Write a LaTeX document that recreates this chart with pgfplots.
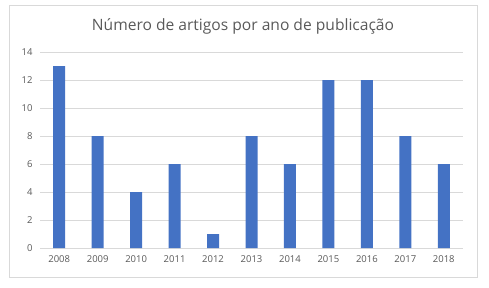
\documentclass[border=0pt]{standalone}
\usepackage{pgfplots}
\pgfplotsset{compat=1.18}
\usepackage{fontspec}
\setmainfont{Open Sans}
\definecolor{barblue}{HTML}{4472C4}
\definecolor{gridc}{HTML}{D9D9D9}
\definecolor{txt}{HTML}{595959}
\begin{document}
\begin{tikzpicture}[x=1pt,y=1pt]
\path (0,0) rectangle (489,287);
\draw[gridc, line width=0.8pt] (9,10) rectangle (477,282);
\node[txt, font=\fontsize{15.6}{17}\selectfont] at (243,261) {Número de artigos por ano de publicação};
\begin{axis}[
  at={(40pt,39pt)}, anchor=south west,
  scale only axis, width=423pt, height=196pt,
  xmin=-0.5, xmax=10.5, ymin=0, ymax=14,
  ybar, bar width=12pt,
  xtick=data,
  xticklabels={2008,2009,2010,2011,2012,2013,2014,2015,2016,2017,2018},
  ytick={0,2,...,14},
  ymajorgrids, grid style={gridc, line width=0.8pt},
  axis x line*=bottom, axis y line*=left,
  x axis line style={gridc, line width=0.8pt, -},
  y axis line style={draw=none},
  major tick length=0pt,
  tick label style={txt, font=\fontsize{9.5}{10}\selectfont},
  /pgf/number format/assume math mode=true,
  xticklabel style={yshift=-4pt},
  yticklabel style={xshift=-4pt},
]
\addplot[fill=barblue, draw=none] coordinates {(0,13) (1,8) (2,4) (3,6) (4,1) (5,8) (6,6) (7,12) (8,12) (9,8) (10,6)};
\end{axis}
\end{tikzpicture}
\end{document}
